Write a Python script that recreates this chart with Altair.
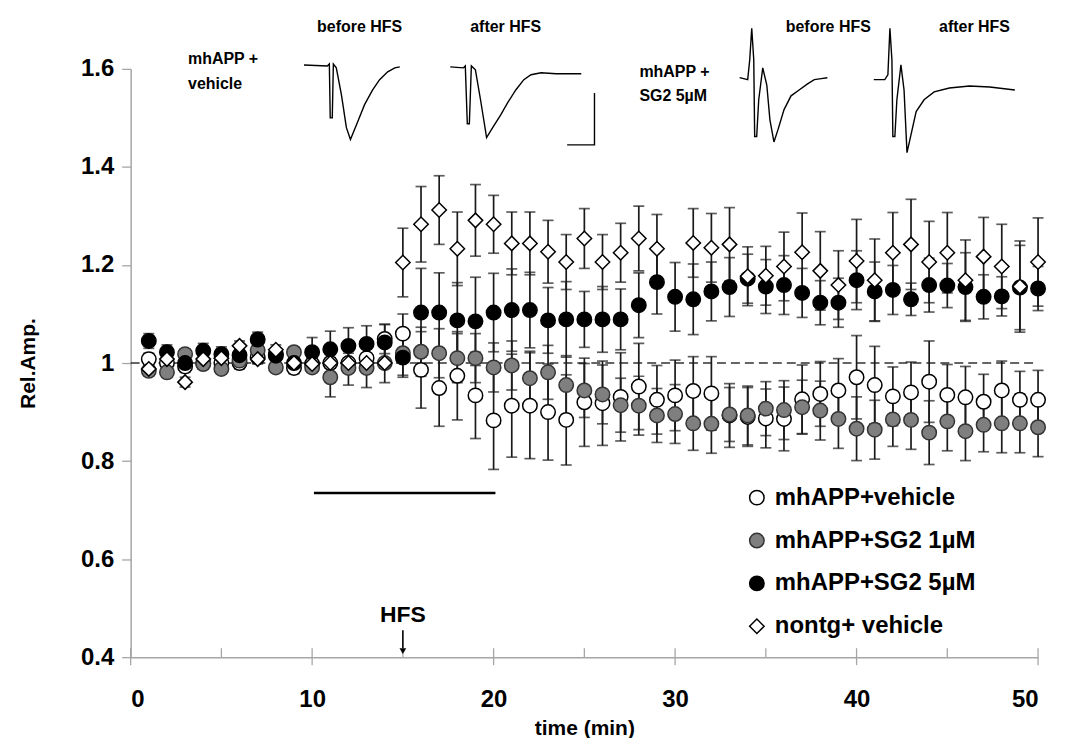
import altair as alt
import pandas as pd

# ---------------- data ----------------
times = list(range(1, 51))

series_names = ["mhAPP+vehicle", "mhAPP+SG2 1µM", "mhAPP+SG2 5µM", "nontg+ vehicle"]

vehicle_mean = [1.008, 1.0, 0.993, 1.0, 1.0, 1.0, 1.012, 1.018, 0.99, 0.998,
                1.0, 1.0, 1.01, 1.049, 1.06, 0.986, 0.949, 0.974, 0.934, 0.883,
                0.913, 0.913, 0.9, 0.884, 0.92, 0.918, 0.931, 0.952, 0.925, 0.934,
                0.943, 0.938, 0.893, 0.89, 0.887, 0.886, 0.926, 0.937, 0.944, 0.971,
                0.955, 0.932, 0.94, 0.962, 0.935, 0.93, 0.921, 0.944, 0.925, 0.925]
vehicle_err = [0.012, 0.012, 0.012, 0.012, 0.012, 0.012, 0.012, 0.012, 0.012, 0.015,
               0.02, 0.02, 0.025, 0.03, 0.04, 0.078, 0.078, 0.09, 0.088, 0.1,
               0.105, 0.108, 0.098, 0.092, 0.09, 0.086, 0.09, 0.088, 0.07, 0.072,
               0.07, 0.075, 0.065, 0.06, 0.06, 0.065, 0.07, 0.066, 0.065, 0.085,
               0.079, 0.06, 0.062, 0.083, 0.062, 0.063, 0.056, 0.06, 0.058, 0.06]

sg1_mean = [0.984, 0.981, 1.018, 0.998, 0.988, 1.005, 1.026, 0.991, 1.022, 0.991,
            0.971, 0.99, 0.99, 1.0, 1.02, 1.023, 1.02, 1.01, 1.01, 0.991,
            0.995, 0.969, 0.981, 0.955, 0.944, 0.936, 0.914, 0.913, 0.893, 0.896,
            0.877, 0.876, 0.895, 0.893, 0.907, 0.904, 0.91, 0.903, 0.886, 0.866,
            0.864, 0.885, 0.884, 0.858, 0.881, 0.861, 0.874, 0.877, 0.877, 0.869]
sg1_err = [0.01, 0.01, 0.01, 0.01, 0.01, 0.01, 0.01, 0.01, 0.01, 0.01,
           0.04, 0.035, 0.04, 0.04, 0.045, 0.05, 0.05, 0.05, 0.05, 0.05,
           0.05, 0.055, 0.055, 0.06, 0.055, 0.06, 0.055, 0.06, 0.055, 0.06,
           0.055, 0.06, 0.055, 0.06, 0.055, 0.06, 0.055, 0.06, 0.06, 0.065,
           0.06, 0.055, 0.06, 0.065, 0.06, 0.06, 0.055, 0.06, 0.06, 0.06]

sg5_mean = [1.045, 1.022, 1.0, 1.025, 1.018, 1.016, 1.048, 1.015, 1.0, 1.022,
            1.028, 1.035, 1.039, 1.042, 1.011, 1.103, 1.103, 1.087, 1.085, 1.103,
            1.108, 1.108, 1.087, 1.089, 1.089, 1.089, 1.089, 1.118, 1.165, 1.135,
            1.13, 1.146, 1.155, 1.172, 1.156, 1.159, 1.143, 1.123, 1.123, 1.169,
            1.146, 1.149, 1.13, 1.159, 1.158, 1.155, 1.135, 1.136, 1.154, 1.152]
sg5_err = [0.015, 0.015, 0.015, 0.015, 0.015, 0.015, 0.015, 0.015, 0.015, 0.03,
           0.037, 0.037, 0.037, 0.037, 0.04, 0.09, 0.081, 0.077, 0.09, 0.08,
           0.084, 0.077, 0.067, 0.077, 0.057, 0.067, 0.062, 0.066, 0.065, 0.07,
           0.072, 0.06, 0.06, 0.05, 0.055, 0.06, 0.05, 0.045, 0.05, 0.06,
           0.06, 0.05, 0.033, 0.055, 0.045, 0.07, 0.045, 0.04, 0.086, 0.045]

nontg_mean = [0.988, 1.008, 0.961, 1.008, 1.01, 1.035, 1.008, 1.027, 1.0, 0.998,
              1.0, 1.0, 1.0, 1.0, 1.205, 1.283, 1.312, 1.233, 1.291, 1.283,
              1.244, 1.244, 1.227, 1.206, 1.254, 1.206, 1.225, 1.254, 1.233, None,
              1.245, 1.235, 1.242, 1.177, 1.178, 1.197, 1.226, 1.188, 1.159, 1.208,
              1.169, 1.225, 1.242, 1.206, 1.225, 1.169, 1.217, 1.197, 1.156, 1.206]
nontg_err = [0.01, 0.01, 0.01, 0.01, 0.01, 0.01, 0.01, 0.01, 0.01, 0.01,
             0.01, 0.01, 0.01, 0.01, 0.07, 0.077, 0.07, 0.075, 0.073, 0.059,
             0.064, 0.064, 0.064, 0.056, 0.061, 0.056, 0.06, 0.066, 0.07, None,
             0.07, 0.07, 0.075, 0.06, 0.06, 0.07, 0.08, 0.08, 0.07, 0.085,
             0.084, 0.082, 0.092, 0.083, 0.082, 0.082, 0.08, 0.086, 0.093, 0.09]

# annotation values
baseline_value = 1.0
hfs_time = 15
hfs_bar_start, hfs_bar_end, hfs_bar_level = 10.1, 20.1, 0.735

# example field-potential traces (inset), sampled in the chart's units
trace1_t = [9.552, 10.837, 10.948, 10.998, 11.110, 11.170, 11.332, 11.615, 11.888, 12.111, 12.444, 12.889, 13.334, 13.718, 14.163, 14.557, 14.830]
trace1_v = [1.608, 1.606, 1.610, 1.500, 1.500, 1.610, 1.602, 1.547, 1.480, 1.456, 1.486, 1.527, 1.557, 1.578, 1.594, 1.602, 1.604]
trace2_t = [17.611, 18.329, 18.440, 18.551, 18.663, 18.774, 18.996, 19.279, 19.613, 19.947, 20.392, 20.776, 21.221, 21.666, 22.060, 22.616, 23.445, 24.830]
trace2_v = [1.604, 1.602, 1.606, 1.488, 1.488, 1.606, 1.598, 1.537, 1.460, 1.480, 1.506, 1.531, 1.557, 1.578, 1.588, 1.592, 1.590, 1.590]
trace3_t = [33.556, 34.001, 34.112, 34.223, 34.335, 34.385, 34.497, 34.608, 34.830, 35.053, 35.225, 35.447, 35.670, 36.004, 36.388, 36.833, 37.278, 37.672, 38.056, 38.390]
trace3_v = [1.582, 1.578, 1.618, 1.683, 1.618, 1.462, 1.462, 1.537, 1.602, 1.567, 1.496, 1.451, 1.476, 1.517, 1.545, 1.557, 1.569, 1.578, 1.580, 1.582]
trace4_t = [40.947, 41.554, 41.726, 41.837, 41.948, 41.999, 42.110, 42.221, 42.444, 42.616, 42.778, 43.000, 43.283, 43.718, 44.274, 45.113, 46.225, 47.337, 48.722]
trace4_v = [1.578, 1.578, 1.588, 1.683, 1.618, 1.462, 1.462, 1.537, 1.608, 1.557, 1.429, 1.466, 1.513, 1.537, 1.553, 1.561, 1.565, 1.563, 1.557]
scalebar_t = [24.052, 25.558, 25.558]
scalebar_v = [1.445, 1.445, 1.551]

trace_labels = ["before HFS", "after HFS", "before HFS", "after HFS"]
trace_label_t = [12.616, 20.665, 38.440, 46.498]
trace_label_v = [1.685, 1.685, 1.685, 1.685]
group_labels = ["mhAPP +", "vehicle", "mhAPP +", "SG2 5µM"]
group_label_t = [3.162, 3.162, 28.035, 28.035]
group_label_v = [1.62, 1.569, 1.594, 1.545]

# ---------------- build tables ----------------
rows = []
for name, means, errs in zip(series_names,
                             [vehicle_mean, sg1_mean, sg5_mean, nontg_mean],
                             [vehicle_err, sg1_err, sg5_err, nontg_err]):
    for t, m, e in zip(times, means, errs):
        if m is None:
            continue
        rows.append({"time": t, "value": m, "err": e, "series": name})
df = pd.DataFrame(rows)

FONT = "Liberation Sans Narrow, Liberation Sans, Arial, sans-serif"

x_scale = alt.Scale(domain=[0, 50], nice=False, zero=False)
y_scale = alt.Scale(domain=[0.4, 1.6], nice=False, zero=False)

base = alt.Chart(df).transform_calculate(
    lo="datum.value - datum.err", hi="datum.value + datum.err"
)

err_rules = base.mark_rule(color="#1a1a1a", strokeWidth=1.7).encode(
    x=alt.X("time:Q", scale=x_scale,
            axis=alt.Axis(values=[0, 10, 20, 30, 40, 50], title="time (min)",
                          ticks=False, labelPadding=30, titlePadding=7)),
    y=alt.Y("lo:Q", scale=y_scale,
            axis=alt.Axis(values=[0.4, 0.6, 0.8, 1.0, 1.2, 1.4, 1.6], title="Rel.Amp.",
                          labelExpr="datum.value == 1 ? '1' : format(datum.value, '.1f')",
                          tickSize=9, labelPadding=8, titlePadding=42)),
    y2="hi:Q",
)
cap_lo = base.mark_tick(orient="horizontal", color="#1a1a1a", thickness=1.7, size=11).encode(
    x="time:Q", y="lo:Q")
cap_hi = base.mark_tick(orient="horizontal", color="#1a1a1a", thickness=1.7, size=11).encode(
    x="time:Q", y="hi:Q")

legend = alt.Legend(title=None, orient="none", legendX=616, legendY=418,
                    labelFont=FONT, labelFontSize=24, labelFontWeight="bold",
                    labelColor="black", symbolStrokeWidth=1.5, rowPadding=19,
                    labelLimit=400, labelOffset=6)

points = alt.Chart(df).mark_point(filled=True, strokeWidth=1.5, opacity=1).encode(
    x="time:Q",
    y="value:Q",
    fill=alt.Fill("series:N", scale=alt.Scale(domain=series_names,
                  range=["white", "#7f7f7f", "black", "white"]), legend=legend),
    stroke=alt.Stroke("series:N", scale=alt.Scale(domain=series_names,
                      range=["black", "#333333", "black", "black"]), legend=legend),
    shape=alt.Shape("series:N", scale=alt.Scale(domain=series_names,
                    range=["circle", "circle", "circle", "diamond"]), legend=legend),
    size=alt.Size("series:N", scale=alt.Scale(domain=series_names,
                  range=[210, 210, 210, 290]), legend=legend),
)

# baseline dashed line
base_df = pd.DataFrame({"x": [0], "x2": [50], "y": [baseline_value]})
baseline = alt.Chart(base_df).mark_rule(color="#333", strokeDash=[9, 5], strokeWidth=1.6).encode(
    x="x:Q", x2="x2:Q", y="y:Q")

# HFS bar
bar_df = pd.DataFrame({"x": [hfs_bar_start], "x2": [hfs_bar_end], "y": [hfs_bar_level]})
hfs_bar = alt.Chart(bar_df).mark_rule(color="black", strokeWidth=2.5).encode(
    x="x:Q", x2="x2:Q", y="y:Q")

# HFS arrow and label
hfs_df = pd.DataFrame({"x": [hfs_time], "label": ["HFS"]})
hfs_text = alt.Chart(hfs_df).mark_text(font=FONT, fontSize=23, fontWeight="bold",
                                       baseline="bottom").encode(
    x="x:Q", y=alt.value(560), text="label:N")
hfs_shaft = alt.Chart(hfs_df).mark_rule(color="black", strokeWidth=1.6).encode(
    x="x:Q", y=alt.value(563), y2=alt.value(581))
hfs_head = alt.Chart(hfs_df).mark_point(shape="triangle-down", filled=True, color="black",
                                        size=45, opacity=1).encode(
    x="x:Q", y=alt.value(584))

# minor x ticks (inward) at every 5 min, major ones crossing
tick_df = pd.DataFrame({"x": list(range(0, 55, 5))})
minor_ticks = alt.Chart(tick_df).mark_rule(color="#a6a6a6", strokeWidth=1.3).encode(
    x="x:Q", y=alt.value(581), y2=alt.value(590))
major_df = pd.DataFrame({"x": list(range(0, 60, 10))})
major_ticks = alt.Chart(major_df).mark_rule(color="#a6a6a6", strokeWidth=1.3).encode(
    x="x:Q", y=alt.value(590), y2=alt.value(598))

# traces
trace_rows = []
for i, (tt, vv) in enumerate([(trace1_t, trace1_v), (trace2_t, trace2_v),
                              (trace3_t, trace3_v), (trace4_t, trace4_v),
                              (scalebar_t, scalebar_v)]):
    for k, (a, b) in enumerate(zip(tt, vv)):
        trace_rows.append({"trace": f"tr{i}", "order": k, "t": a, "v": b})
trace_df = pd.DataFrame(trace_rows)
traces = alt.Chart(trace_df).mark_line(color="black", strokeWidth=1.4, clip=False).encode(
    x="t:Q", y="v:Q", detail="trace:N", order="order:Q")

tl_df = pd.DataFrame({"t": trace_label_t, "v": trace_label_v, "label": trace_labels})
trace_text = alt.Chart(tl_df).mark_text(font=FONT, fontSize=16, fontWeight="bold").encode(
    x="t:Q", y="v:Q", text="label:N")
gl_df = pd.DataFrame({"t": group_label_t, "v": group_label_v, "label": group_labels})
group_text = alt.Chart(gl_df).mark_text(font=FONT, fontSize=16, fontWeight="bold", align="left").encode(
    x="t:Q", y="v:Q", text="label:N")

chart = alt.layer(
    baseline, hfs_bar, minor_ticks, major_ticks, err_rules, cap_lo, cap_hi, points,
    traces, trace_text, group_text, hfs_text, hfs_shaft, hfs_head
).properties(
    width=910, height=590,
    autosize=alt.AutoSizeParams(type="none"),
    padding={"left": 123, "top": 60, "right": 19, "bottom": 80},
).configure_view(stroke=None).configure_axis(
    grid=False, domainColor="#a6a6a6", domainWidth=1.5, tickColor="#a6a6a6",
    tickWidth=1.3, labelFont=FONT, labelFontSize=24, labelFontWeight="bold",
    labelColor="black", titleFont=FONT, titleFontSize=21, titleFontWeight="bold",
    titleColor="black"
)

chart.save("out.html", embed_options={"renderer": "svg", "actions": False})
